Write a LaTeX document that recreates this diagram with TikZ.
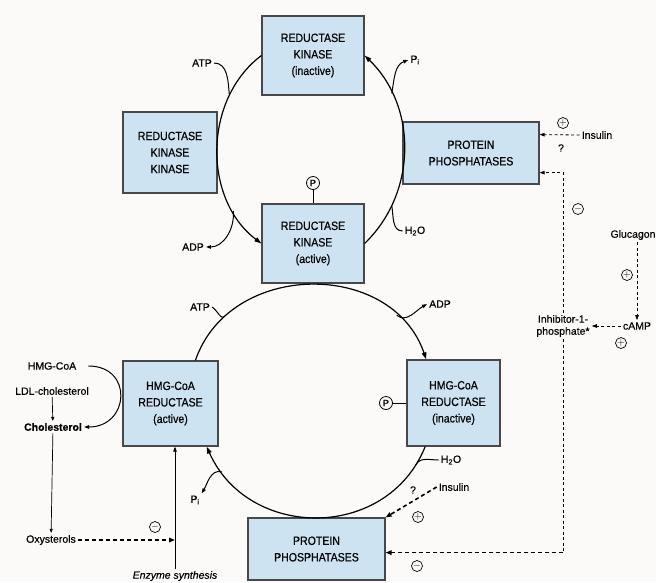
\documentclass[tikz,border=0pt]{standalone}
\usepackage{fontspec}
\setmainfont{Liberation Sans}[FakeBold=0.4]
\newfontfamily\boxfont{Liberation Sans}[FakeStretch=0.88,FakeBold=0.5]
\usetikzlibrary{arrows.meta}
\definecolor{boxblue}{RGB}{205,227,242}
\definecolor{boxedge}{RGB}{72,72,72}
\definecolor{paper}{RGB}{252,249,249}
\begin{document}
\begin{tikzpicture}[x=1pt,y=1pt]
                \tikzstyle{every node}+=[inner sep=0pt]
                \tikzstyle{box}=[draw=boxedge, line width=1.2pt, fill=boxblue, align=center, font=\boxfont\fontsize{12}{16.5}\selectfont]
                \tikzstyle{lbl}=[inner sep=2pt, font=\fontsize{10.5}{12}\selectfont]
                \tikzstyle{sign}=[circle, draw, line width=0.7pt, minimum size=11pt, font=\fontsize{10}{10}\selectfont]
                \tikzstyle{phos}=[circle, draw, line width=0.8pt, minimum size=13pt, font=\fontsize{9}{9}\selectfont]
                \tikzstyle{cyc}=[black, line width=1.2pt, -{Triangle[length=7pt,width=4.5pt]}]
                \tikzstyle{side}=[black, line width=1pt]
                \tikzstyle{sidearr}=[black, line width=1pt, -{Triangle[length=5pt,width=3.5pt]}]
                \tikzstyle{dsh}=[black, line width=0.8pt, dash pattern=on 3pt off 2.5pt]
                \tikzstyle{dsharr}=[dsh, -{Triangle[length=5pt,width=3.5pt]}]
                \tikzstyle{dshb}=[black, line width=1.6pt, dash pattern=on 4pt off 3pt, -{Triangle[length=6pt,width=4.5pt]}]
                \fill [paper] (0,0) rectangle (656,-582);
                \useasboundingbox (0,0) rectangle (656,-582);
                \node [box, minimum width=102pt, minimum height=79pt] (rki) at (313,-55.5) {REDUCTASE\\KINASE\\(inactive)};
                \node [box, minimum width=94pt, minimum height=81pt] (rkk) at (170,-152.5) {REDUCTASE\\KINASE\\KINASE};
                \node [box, minimum width=136pt, minimum height=62pt] (ppt) at (471,-153) {PROTEIN\\PHOSPHATASES};
                \node [box, minimum width=102pt, minimum height=79pt] (rka) at (313,-243.5) {REDUCTASE\\KINASE\\(active)};
                \node [box, minimum width=95pt, minimum height=85pt] (hra) at (170.5,-403.5) {HMG-CoA\\REDUCTASE\\(active)};
                \node [box, minimum width=93pt, minimum height=86pt] (hri) at (453.5,-403) {HMG-CoA\\REDUCTASE\\(inactive)};
                \node [box, minimum width=137pt, minimum height=62pt] (ppb) at (316.5,-549) {PROTEIN\\PHOSPHATASES};
                \node [phos] (pka) at (313,-183) {P};
                \draw [black, line width=0.8pt] (pka) -- (rka);
                \node [phos] (phr) at (386,-403) {P};
                \draw [black, line width=0.8pt] (phr) -- (hri);
                \draw [cyc] (rki.west) to[out=217,in=143] coordinate[pos=0.24] (tl1) coordinate[pos=0.8] (tl2) (rka.west);
                \draw [cyc] (rka.east) to[out=44,in=-44] coordinate[pos=0.22] (tr2) coordinate[pos=0.78] (tr1) (rki.east);
                \draw [cyc] (hra.60) to[out=71,in=109,looseness=1.17] coordinate[pos=0.18] (bl1) coordinate[pos=0.82] (br1) (hri.122);
                \draw [cyc] (hri.237) to[out=248,in=294,looseness=1.2] coordinate[pos=0.07] (br2) coordinate[pos=0.9] (bl2) (hra.310);
                \node [lbl] (atpa) at (202,-63) {ATP};
                \node [lbl] (adpa) at (193,-247) {ADP};
                \node [lbl] (pia) at (415,-60) {P\textsubscript{i}};
                \node [lbl] (h2oa) at (415,-231) {H\textsubscript{2}O};
                \node [lbl] (atpb) at (200,-307) {ATP};
                \node [lbl] (adpb) at (440,-304) {ADP};
                \node [lbl] (pib) at (195,-500) {P\textsubscript{i}};
                \node [lbl] (h2ob) at (451,-460) {H\textsubscript{2}O};
                \draw [side] (atpa.east) to[out=0,in=95] (tl1);
                \draw [sidearr] (tl2) to[out=-85,in=0] (adpa.east);
                \draw [sidearr] (tr1) to[out=80,in=200] (pia.west);
                \draw [side] (h2oa.west) to[out=180,in=-80] (tr2);
                \draw [side] (atpb.east) to[out=-30,in=230] (bl1);
                \draw [sidearr] (br1) to[out=-40,in=210] (adpb.west);
                \draw [sidearr] (bl2) to[out=165,in=60] (pib.north east);
                \draw [side] (h2ob.west) to[out=180,in=65] (br2);
                \node [lbl] (hmg) at (52,-366) {HMG-CoA};
                \node [lbl] (ldl) at (52,-391) {LDL-cholesterol};
                \node [lbl, font=\bfseries\fontsize{10.5}{12}\selectfont] (chol) at (53,-427) {Cholesterol};
                \node [lbl] (oxy) at (51,-540) {Oxysterols};
                \node [lbl, font=\itshape\fontsize{10.5}{12}\selectfont] (esyn) at (175,-576) {Enzyme synthesis};
                \node [sign] (sgg) at (155,-527) {$-$};
                \draw [black, line width=0.7pt, -{Triangle[length=4pt,width=3pt]}] (ldl) -- (chol);
                \draw [black, line width=0.7pt, -{Triangle[length=4pt,width=3pt]}] (chol) -- (oxy);
                \draw [sidearr] ([xshift=10pt]hmg.east) to[out=0,in=0,looseness=1.9] (chol.east);
                \draw [dshb] (oxy.east) -- (oxy.east -| esyn.north);
                \draw [black, line width=0.8pt, -{Triangle[length=5pt,width=3.5pt]}] (esyn.north) -- (esyn.north |- hra.south);
                \node [lbl] (insa) at (597,-135) {Insulin};
                \node [sign] (sga) at (563,-123) {$+$};
                \node [lbl] (qa) at (561,-148) {?};
                \node [sign] (sgb) at (578,-209) {$-$};
                \node [lbl] (glu) at (633,-235) {Glucagon};
                \node [lbl] (camp) at (637,-326) {cAMP};
                \node [sign] (sgc) at (627,-275) {$+$};
                \node [sign] (sgd) at (621,-343) {$+$};
                \node [lbl, align=center] (inh) at (563,-326) {Inhibitor-1-\\phosphate*};
                \draw [dsharr] (insa.west) -- (ppt.15);
                \draw [dsharr] (glu.south -| camp.north) -- (camp.north);
                \draw [dsharr] (camp) -- (inh);
                \draw [dsharr] (inh.north) |- (ppt.-16);
                \draw [dsh] (inh.south) -- (inh.south |- ppb.-3) coordinate (crn);
                \draw [dshb] (crn) -- (ppb.-3);
                \node [sign] (sge) at (417,-566) {$-$};
                \node [lbl] (insb) at (454,-487) {Insulin};
                \node [lbl] (qb) at (413,-490) {?};
                \node [sign] (sgf) at (418,-517) {$+$};
                \draw [dshb] (insb.west) -- (ppb.north east);
            \end{tikzpicture}
\end{document}
